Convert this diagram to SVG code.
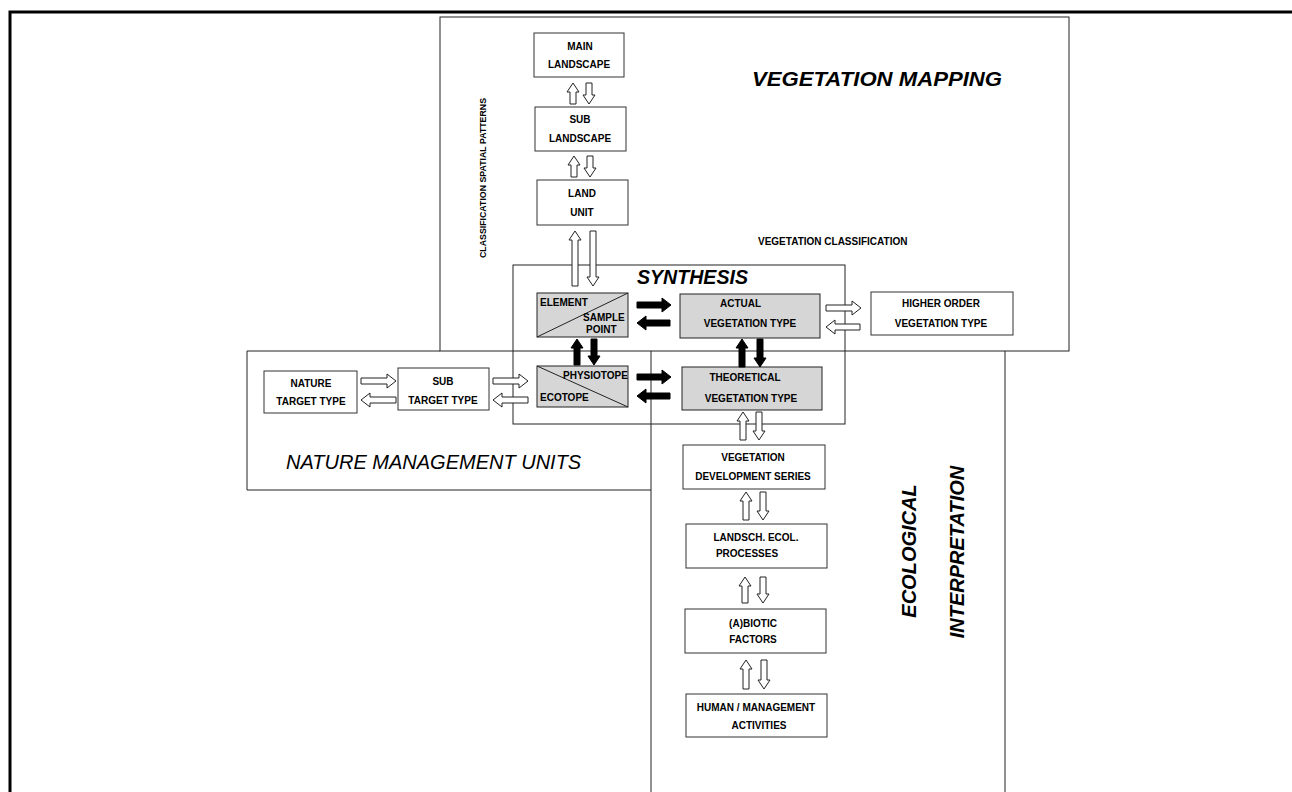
<svg xmlns="http://www.w3.org/2000/svg" width="1292" height="792" viewBox="0 0 1292 792">
<style>
.frame{fill:none;stroke:#000;stroke-width:3}
.panel{fill:none;stroke:#222;stroke-width:1}
.box{fill:#fff;stroke:#333;stroke-width:1}
.shade{fill:#d6d6d6;stroke:#222;stroke-width:1}
.diag{stroke:#222;stroke-width:1}
.lbl{font-family:"Liberation Sans",Arial,sans-serif;font-weight:bold;font-size:10px;fill:#000}
.mid{text-anchor:middle}
.title{font-family:"Liberation Sans",Arial,sans-serif;font-style:italic;font-size:20px;fill:#000}
.btitle{font-family:"Liberation Sans",Arial,sans-serif;font-style:italic;font-weight:bold;font-size:20px;fill:#000}
.small{font-family:"Liberation Sans",Arial,sans-serif;font-weight:bold;font-size:9px;fill:#000}
.ha{fill:#fff;stroke:#222;stroke-width:1}
.ba{fill:#000;stroke:#000;stroke-width:1}
</style>
<rect width="1292" height="792" fill="#fff"/>
<g id="frame">
<path class="frame" d="M10,792 V12 H1292"/>
</g>
<g id="panel-vegetation-mapping">
<rect class="panel" x="440" y="17" width="629" height="334"/>
<text class="btitle" x="752" y="86" textLength="250" lengthAdjust="spacingAndGlyphs">VEGETATION MAPPING</text>
<text class="small" transform="translate(486,258) rotate(-90)" textLength="160" lengthAdjust="spacingAndGlyphs">CLASSIFICATION  SPATIAL PATTERNS</text>
<text class="lbl" x="758" y="245">VEGETATION CLASSIFICATION</text>
</g>
<g id="panel-nature-management">
<path class="panel" d="M440,351 H247 V490 H651"/>
<text class="title" x="286" y="469">NATURE MANAGEMENT UNITS</text>
</g>
<g id="panel-ecological">
<path class="panel" d="M651,351 V800 M1005,351 V800"/>
<text class="btitle" transform="translate(916,551) rotate(-90)" text-anchor="middle">ECOLOGICAL</text>
<text class="btitle" transform="translate(964,552) rotate(-90)" text-anchor="middle">INTERPRETATION</text>
</g>
<g id="panel-synthesis">
<rect class="panel" x="513" y="265" width="332" height="159"/>
<text class="btitle" x="637" y="284" textLength="111" lengthAdjust="spacingAndGlyphs">SYNTHESIS</text>
</g>
<g id="main-landscape">
<rect class="box" x="534" y="33" width="90" height="44"/>
<text class="lbl mid" x="580" y="50">MAIN</text>
<text class="lbl mid" x="579" y="68">LANDSCAPE</text>
</g>
<g id="sub-landscape">
<rect class="box" x="535" y="107" width="91" height="44"/>
<text class="lbl mid" x="580" y="123">SUB</text>
<text class="lbl mid" x="580" y="142">LANDSCAPE</text>
</g>
<g id="land-unit">
<rect class="box" x="537" y="180" width="91" height="45"/>
<text class="lbl mid" x="582" y="197">LAND</text>
<text class="lbl mid" x="582" y="216">UNIT</text>
</g>
<g id="element-sample-point">
<rect class="shade" x="537" y="293" width="91" height="44"/>
<line class="diag" x1="537" y1="337" x2="628" y2="293"/>
<text class="lbl" x="540" y="306">ELEMENT</text>
<text class="lbl" x="583" y="321">SAMPLE</text>
<text class="lbl" x="586" y="333">POINT</text>
</g>
<g id="physiotope-ecotope">
<rect class="shade" x="537" y="366" width="91" height="41"/>
<line class="diag" x1="537" y1="366" x2="628" y2="407"/>
<text class="lbl" x="563" y="379">PHYSIOTOPE</text>
<text class="lbl" x="540" y="401">ECOTOPE</text>
</g>
<g id="actual-vegetation-type">
<rect class="shade" x="680" y="294" width="140" height="44"/>
<text class="lbl" x="720" y="307">ACTUAL</text>
<text class="lbl mid" x="750" y="327">VEGETATION  TYPE</text>
</g>
<g id="theoretical-vegetation-type">
<rect class="shade" x="682" y="367" width="140" height="43"/>
<text class="lbl mid" x="745" y="381">THEORETICAL</text>
<text class="lbl mid" x="751" y="402">VEGETATION  TYPE</text>
</g>
<g id="higher-order-vegetation-type">
<rect class="box" x="871" y="292" width="142" height="43"/>
<text class="lbl mid" x="941" y="307">HIGHER ORDER</text>
<text class="lbl mid" x="941" y="327">VEGETATION  TYPE</text>
</g>
<g id="nature-target-type">
<rect class="box" x="264" y="371" width="93" height="42"/>
<text class="lbl mid" x="311" y="387">NATURE</text>
<text class="lbl mid" x="311" y="405">TARGET TYPE</text>
</g>
<g id="sub-target-type">
<rect class="box" x="398" y="368" width="91" height="42"/>
<text class="lbl mid" x="443" y="385">SUB</text>
<text class="lbl mid" x="443" y="404">TARGET TYPE</text>
</g>
<g id="vegetation-development-series">
<rect class="box" x="683" y="445" width="142" height="44"/>
<text class="lbl mid" x="753" y="461">VEGETATION</text>
<text class="lbl mid" x="753" y="480">DEVELOPMENT SERIES</text>
</g>
<g id="landsch-ecol-processes">
<rect class="box" x="686" y="524" width="141" height="44"/>
<text class="lbl mid" x="756" y="541">LANDSCH. ECOL.</text>
<text class="lbl mid" x="747" y="557">PROCESSES</text>
</g>
<g id="abiotic-factors">
<rect class="box" x="685" y="609" width="141" height="44"/>
<text class="lbl mid" x="753" y="627">(A)BIOTIC</text>
<text class="lbl mid" x="753" y="643">FACTORS</text>
</g>
<g id="human-management-activities">
<rect class="box" x="686" y="694" width="141" height="43"/>
<text class="lbl mid" x="756" y="711">HUMAN / MANAGEMENT</text>
<text class="lbl mid" x="759" y="729">ACTIVITIES</text>
</g>
<g id="connectors">
<!-- MAIN <-> SUB -->
<path class="ha" d="M570,104 V92 H567 L573,83 L579,92 H576 V104 Z"/>
<path class="ha" d="M586,83 V95 H583 L589,104 L595,95 H592 V83 Z"/>
<!-- SUB <-> LAND -->
<path class="ha" d="M571,177 V165 H568 L574,156 L580,165 H577 V177 Z"/>
<path class="ha" d="M587,156 V168 H584 L590,177 L596,168 H593 V156 Z"/>
<!-- LAND <-> ELEMENT -->
<path class="ha" d="M572,286 V240 H569 L575,231 L581,240 H578 V286 Z"/>
<path class="ha" d="M590,231 V277 H587 L593,286 L599,277 H596 V231 Z"/>
<!-- ELEMENT <-> ACTUAL -->
<path class="ba" d="M637,302 H662 V298 L671,305 L662,312 V308 H637 Z"/>
<path class="ba" d="M670,320 H646 V316 L637,323 L646,330 V326 H670 Z"/>
<!-- ELEMENT <-> PHYSIOTOPE -->
<path class="ba" d="M574,365 V348 H571 L577,339 L583,348 H580 V365 Z"/>
<path class="ba" d="M591,339 V356 H588 L594,365 L600,356 H597 V339 Z"/>
<!-- ACTUAL <-> THEORETICAL -->
<path class="ba" d="M739,367 V348 H736 L742,339 L748,348 H745 V367 Z"/>
<path class="ba" d="M757,339 V358 H754 L760,367 L766,358 H763 V339 Z"/>
<!-- PHYSIOTOPE <-> THEORETICAL -->
<path class="ba" d="M637,374 H662 V370 L671,377 L662,384 V380 H637 Z"/>
<path class="ba" d="M670,393 H646 V389 L637,396 L646,403 V399 H670 Z"/>
<!-- ACTUAL <-> HIGHER ORDER -->
<path class="ha" d="M826,305 H852 V301 L861,308 L852,315 V311 H826 Z"/>
<path class="ha" d="M860,324 H835 V320 L826,327 L835,334 V330 H860 Z"/>
<!-- NATURE <-> SUB TARGET -->
<path class="ha" d="M361,378 H387 V374 L396,381 L387,388 V384 H361 Z"/>
<path class="ha" d="M396,397 H370 V393 L361,400 L370,407 V403 H396 Z"/>
<!-- SUB TARGET <-> PHYSIOTOPE -->
<path class="ha" d="M493,378 H519 V374 L528,381 L519,388 V384 H493 Z"/>
<path class="ha" d="M528,397 H502 V393 L493,400 L502,407 V403 H528 Z"/>
<!-- THEORETICAL <-> VEG DEV -->
<path class="ha" d="M740,440 V421 H737 L743,412 L749,421 H746 V440 Z"/>
<path class="ha" d="M756,412 V431 H753 L759,440 L765,431 H762 V412 Z"/>
<!-- VEG DEV <-> LANDSCH -->
<path class="ha" d="M743,520 V501 H740 L746,492 L752,501 H749 V520 Z"/>
<path class="ha" d="M760,492 V511 H757 L763,520 L769,511 H766 V492 Z"/>
<!-- LANDSCH <-> ABIOTIC -->
<path class="ha" d="M742,603 V586 H739 L745,577 L751,586 H748 V603 Z"/>
<path class="ha" d="M760,577 V594 H757 L763,603 L769,594 H766 V577 Z"/>
<!-- ABIOTIC <-> HUMAN -->
<path class="ha" d="M743,689 V669 H740 L746,660 L752,669 H749 V689 Z"/>
<path class="ha" d="M761,660 V680 H758 L764,689 L770,680 H767 V660 Z"/>
</g>
</svg>
